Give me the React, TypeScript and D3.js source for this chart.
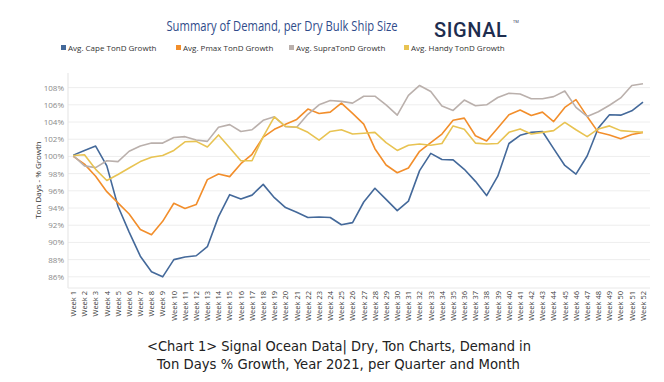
import React, { useLayoutEffect, useRef, useState } from "react";
import * as d3 from "d3";

const weeks = d3.range(1, 53).map((i) => `Week ${i}`);
const cape = [100.15,100.7,101.2,98.9,94.2,91.2,88.4,86.6,86.0,88.0,88.3,88.45,89.5,93.0,95.55,95.05,95.5,96.75,95.2,94.05,93.5,92.9,92.95,92.9,92.05,92.3,94.7,96.3,95.0,93.7,94.8,98.35,100.35,99.65,99.6,98.5,97.1,95.45,97.7,101.5,102.45,102.8,102.9,100.9,98.95,97.95,100.05,103.3,104.85,104.8,105.3,106.3];
const pmax = [100.0,99.1,97.7,95.9,94.6,93.3,91.5,90.9,92.45,94.55,93.95,94.4,97.3,97.95,97.65,99.15,100.25,102.25,103.15,103.75,104.3,105.5,105.0,105.15,106.2,105.0,103.75,100.9,99.0,98.1,98.65,100.6,101.6,102.6,104.2,104.45,102.4,101.8,103.3,104.85,105.4,104.75,105.15,104.05,105.7,106.6,104.65,102.8,102.5,102.05,102.55,102.8];
const supra = [100.1,98.9,98.7,99.5,99.4,100.6,101.2,101.55,101.55,102.2,102.3,101.9,101.75,103.4,103.7,102.9,103.1,104.2,104.6,103.45,103.4,104.9,106.0,106.5,106.4,106.2,107.0,107.0,106.0,104.8,107.1,108.25,107.55,105.85,105.35,106.55,105.9,106.0,106.85,107.35,107.25,106.7,106.7,106.95,107.6,105.7,104.65,105.2,105.95,106.8,108.25,108.45];
const handy = [100.1,100.2,98.5,97.2,97.9,98.65,99.4,99.9,100.1,100.7,101.7,101.75,101.1,102.5,101.0,99.5,99.5,102.3,104.6,103.5,103.4,102.8,101.9,102.9,103.1,102.6,102.7,102.8,101.6,100.7,101.3,101.45,101.3,101.5,103.55,103.15,101.55,101.45,101.5,102.8,103.2,102.6,102.8,103.0,103.95,103.1,102.3,103.2,103.55,103.0,102.9,102.8];
const seriesNames = ["Avg. Cape TonD Growth", "Avg. Pmax TonD Growth", "Avg. SupraTonD Growth", "Avg. Handy TonD Growth"];
const seriesColors = ["#44699a", "#f28e2b", "#bab0ac", "#e8c352"];
const yTicks = [86, 88, 90, 92, 94, 96, 98, 100, 102, 104, 106, 108];

export default function App() {
  const W = 664, H = 382;
  const left = 68, right = 650, top = 73, bottom = 288;
  const x = d3.scalePoint<string>().domain(weeks).range([73.3, 643]);
  const y = d3.scaleLinear().domain([84.7, 109.7]).range([bottom, top]);
  const line = d3.line<number>().x((_, i) => x(weeks[i]) as number).y((d) => y(d));
  const allSeries = [cape, pmax, supra, handy];
  const legendX = [61, 176, 289, 404];
  const titleRef = useRef<SVGTextElement>(null);
  const [sx, setSx] = useState(0.75);
  useLayoutEffect(() => {
    const el = titleRef.current;
    if (el) {
      const w = el.getComputedTextLength();
      if (w > 0) setSx(231 / w);
    }
  }, []);
  return (
    <svg width={W} height={H} style={{ position: "absolute", left: 0, top: 0, background: "#fff" }} fontFamily="'Open Sans', 'Noto Sans', sans-serif">
      <text ref={titleRef} transform={`translate(282,31) scale(${sx},1)`} textAnchor="middle" fontSize={14.5} fill="#2f4b8a" fontFamily="'Open Sans', sans-serif">Summary of Demand, per Dry Bulk Ship Size</text>
      <text x={434} y={37} fontSize={20} fontWeight={500} fill="#1e2d4f" fontFamily="Roboto, 'Open Sans', sans-serif" letterSpacing={0.6}>SIGNAL</text>
      <text x={513} y={23} fontSize={4} fill="#1e2d4f">TM</text>
      {seriesNames.map((n, i) => (
        <g key={n}>
          <rect x={legendX[i]} y={45} width={5} height={5} fill={seriesColors[i]} />
          <text x={legendX[i] + 7} y={50.5} fontSize={8} fill="#333">{n}</text>
        </g>
      ))}
      {yTicks.map((t) => (
        <g key={t}>
          <line x1={left} x2={right} y1={y(t)} y2={y(t)} stroke="#eeeeee" strokeWidth={1} />
          <text x={64} y={y(t) + 3} textAnchor="end" fontSize={8} fill="#8a8a8a">{t}%</text>
        </g>
      ))}
      <line x1={left} x2={left} y1={top} y2={bottom} stroke="#e3e3e3" />
      <line x1={left} x2={right} y1={bottom} y2={bottom} stroke="#e8e8e8" />
      <text transform={`translate(41,180) rotate(-90)`} textAnchor="middle" fontSize={8} fill="#333">Ton Days - % Growth</text>
      {weeks.map((w) => (
        <text key={w} transform={`translate(${(x(w) as number) + 2.8},291) rotate(-90)`} textAnchor="end" fontSize={7.5} fill="#444">{w}</text>
      ))}
      {allSeries.map((s, i) => (
        <path key={i} d={line(s) || ""} fill="none" stroke={seriesColors[i]} strokeWidth={1.6} strokeLinejoin="round" />
      ))}
      <text x={339} y={351} textAnchor="middle" fontSize={14.5} fill="#222" fontFamily="'DejaVu Sans', Verdana, sans-serif" textLength={384} lengthAdjust="spacingAndGlyphs">&lt;Chart 1&gt; Signal Ocean Data| Dry, Ton Charts, Demand in</text>
      <text x={338.5} y={369} textAnchor="middle" fontSize={14.5} fill="#222" fontFamily="'DejaVu Sans', Verdana, sans-serif" textLength={363} lengthAdjust="spacingAndGlyphs">Ton Days % Growth, Year 2021, per Quarter and Month</text>
    </svg>
  );
}
